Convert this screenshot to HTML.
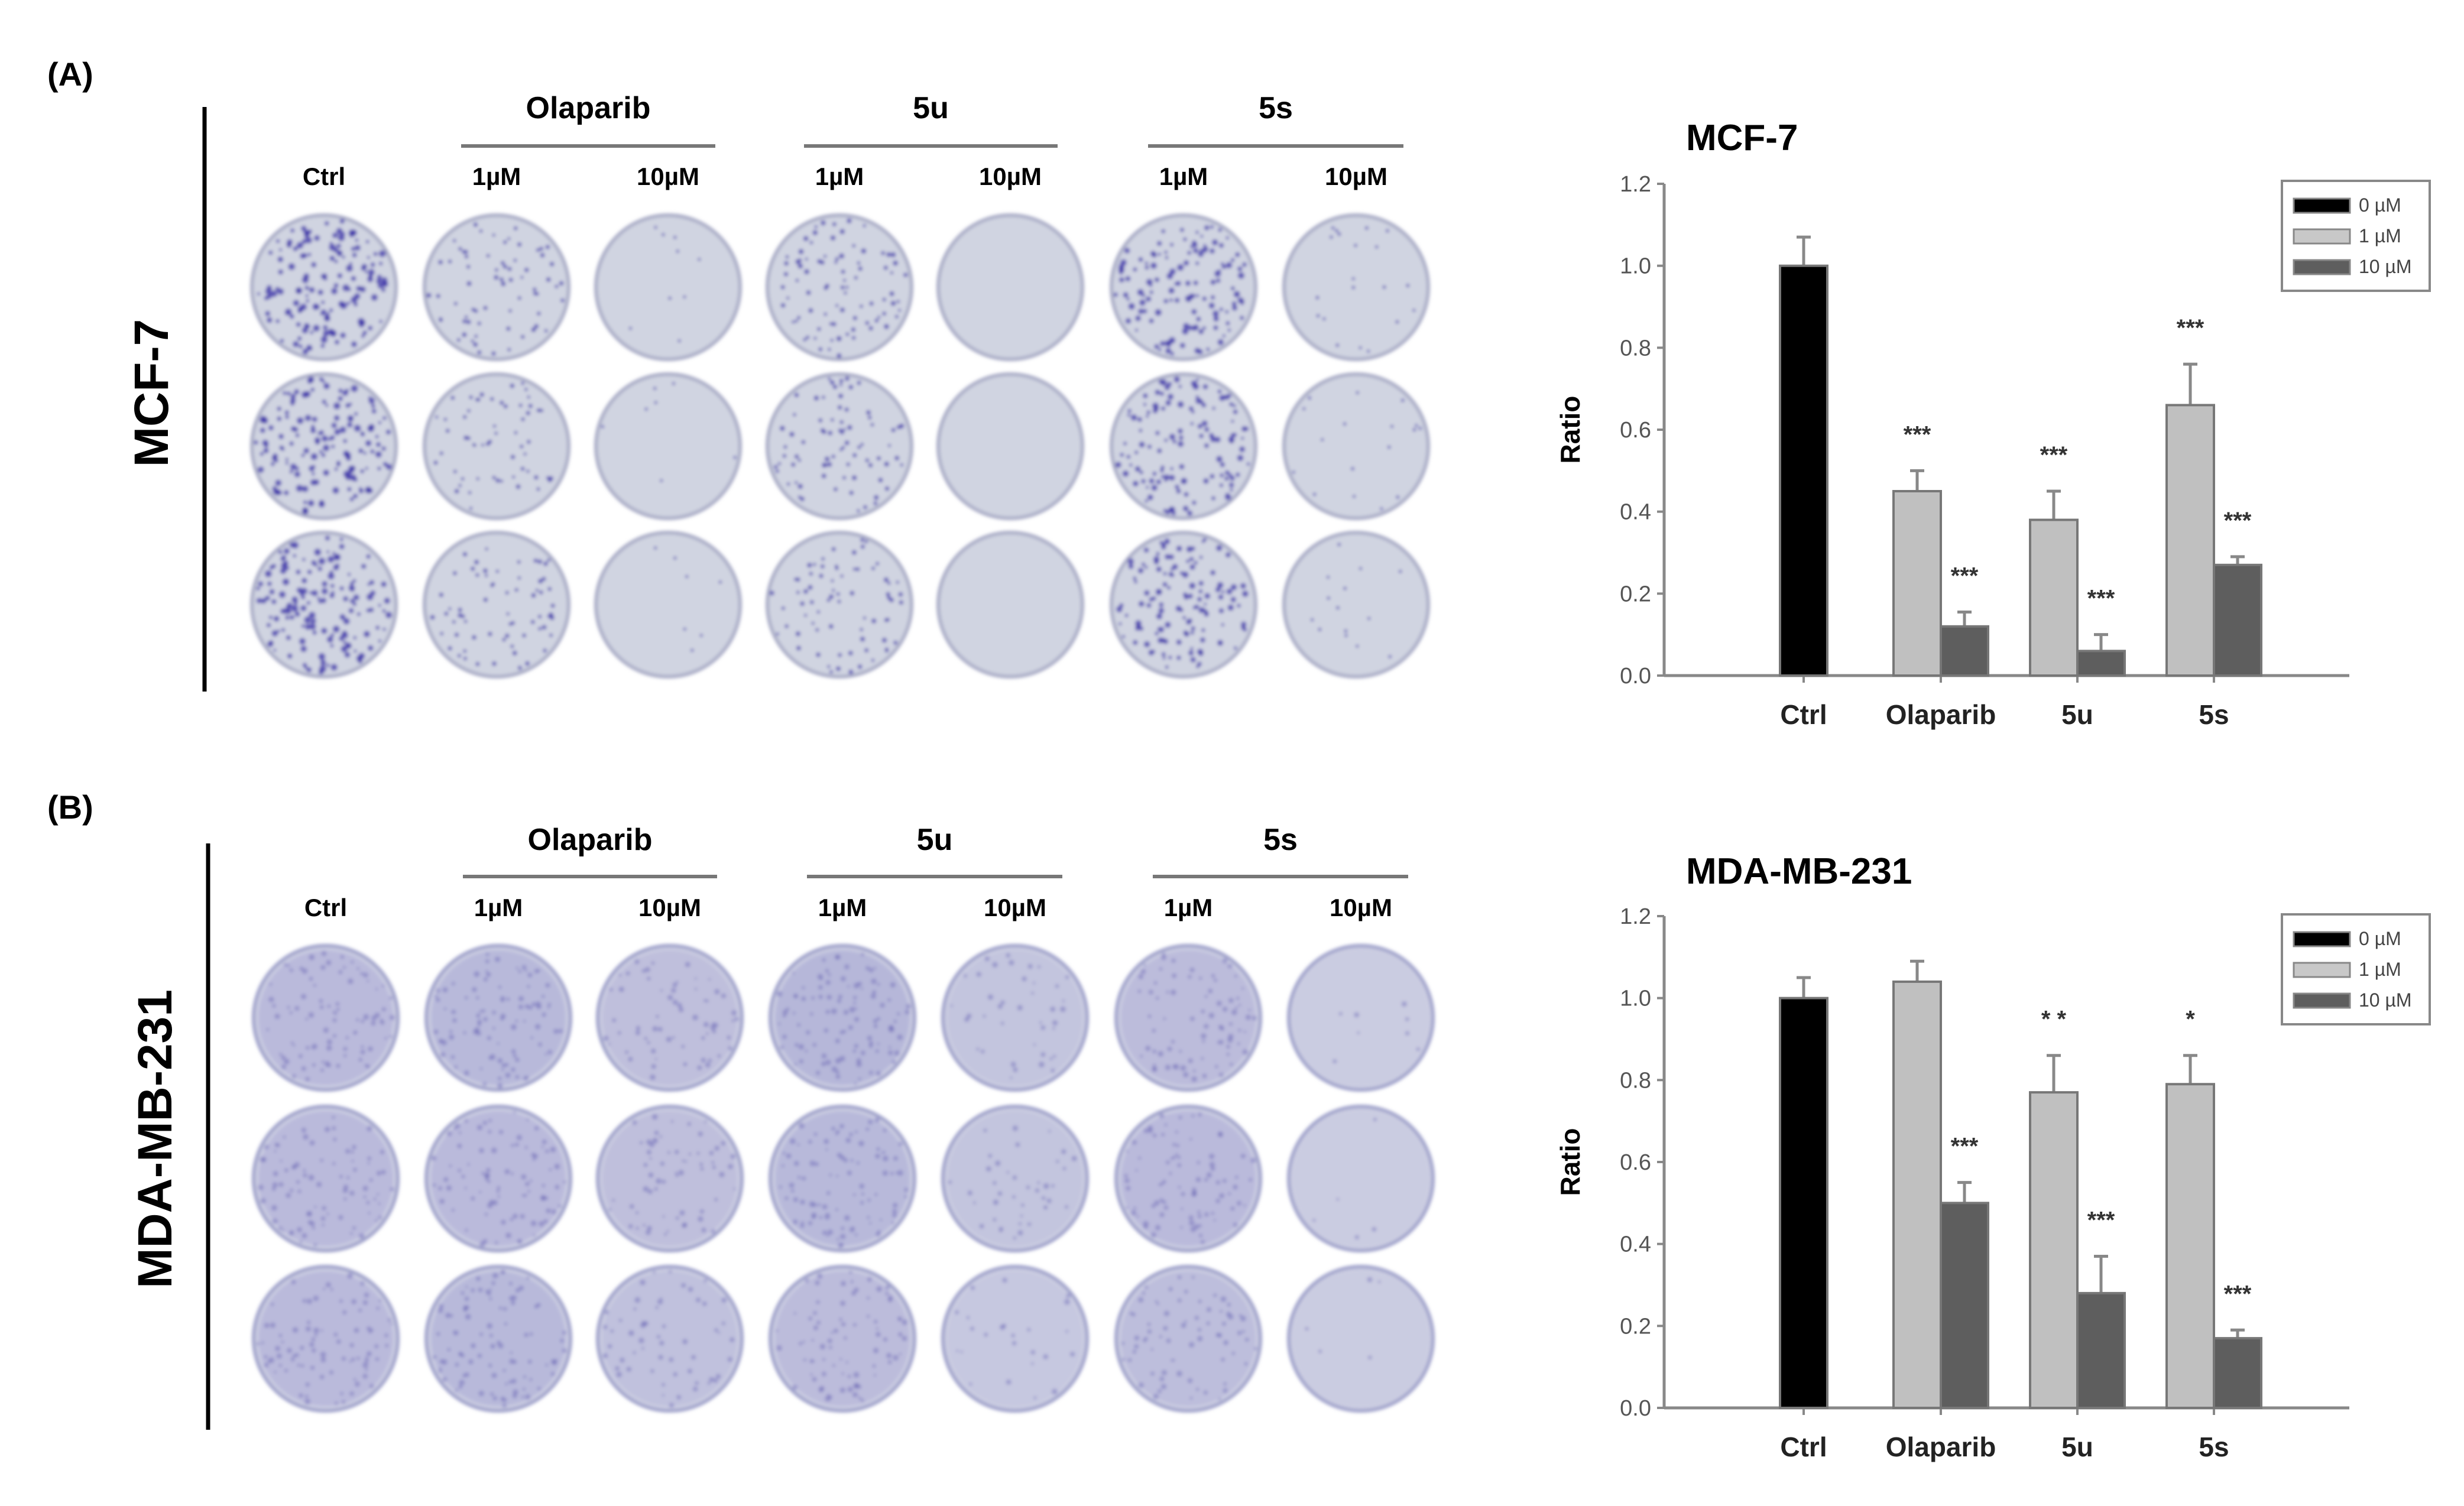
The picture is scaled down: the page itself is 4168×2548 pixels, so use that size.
<!DOCTYPE html>
<html><head><meta charset="utf-8">
<style>
html,body{margin:0;padding:0;background:#fff;}
svg{display:block;font-family:"Liberation Sans",Arial,sans-serif;}
</style></head>
<body>
<svg id="fig" width="4168" height="2548" viewBox="0 0 4168 2548" xmlns="http://www.w3.org/2000/svg">
<defs>
<filter id="soft" x="-10%" y="-10%" width="120%" height="120%"><feGaussianBlur stdDeviation="3"/></filter>
</defs>
<g id="plates" filter="url(#soft)"></g>
<g id="labels"></g>
<g id="chartA"></g>
<g id="chartB"></g>
</svg>
<script>
// ---- chart data ----
const categories = ["Ctrl","Olaparib","5u","5s"];
const legendLabels = ["0 \u00b5M","1 \u00b5M","10 \u00b5M"];
const yTicks = [0.0,0.2,0.4,0.6,0.8,1.0,1.2];
const ctrlA = [1.0]; const ctrlErrA = [0.07];
const lowA = [0.45,0.38,0.66]; const lowErrA = [0.05,0.07,0.10];
const highA = [0.12,0.06,0.27]; const highErrA = [0.035,0.04,0.02];
const lowStarsA = ["***","***","***"]; const highStarsA = ["***","***","***"];
const ctrlB = [1.0]; const ctrlErrB = [0.05];
const lowB = [1.04,0.77,0.79]; const lowErrB = [0.05,0.09,0.07];
const highB = [0.50,0.28,0.17]; const highErrB = [0.05,0.09,0.02];
const lowStarsB = ["","* *","*"]; const highStarsB = ["***","***","***"];
// plate colony densities (rows x 7 columns)
const densA = [[0.9,0.4,0.05,0.5,0.0,0.8,0.12],[0.9,0.35,0.04,0.45,0.0,0.75,0.1],[0.9,0.38,0.04,0.42,0.0,0.75,0.08]];
const densB = [[0.55,0.6,0.4,0.65,0.25,0.5,0.05],[0.55,0.55,0.4,0.6,0.25,0.55,0.03],[0.55,0.6,0.35,0.5,0.15,0.45,0.03]];

const NS="http://www.w3.org/2000/svg";
function mk(tag,attrs,parent,txt){const e=document.createElementNS(NS,tag);for(const k in attrs)e.setAttribute(k,attrs[k]);if(txt!==undefined)e.textContent=txt;parent.appendChild(e);return e;}

let seed=12345;function rnd(){seed=(seed*1103515245+12345)%2147483648;return seed/2147483648;}

const plates=document.getElementById('plates');
function drawPlates(cx,cy,dens,fill,edge,bg){
  for(let r=0;r<3;r++)for(let c=0;c<7;c++){
    const g=mk('g',{},plates);
    
    
    const x=cx[c],y=cy[r],R=122;
    mk('circle',{cx:x,cy:y,r:R,fill:fill,stroke:edge,'stroke-width':6},g);
    const d=dens[r][c];
    if(bg){mk('circle',{cx:x,cy:y,r:R-8,fill:'#8a88c8','fill-opacity':d*0.5},g);}
    const n=Math.round(d*(bg?160:170));
    for(let i=0;i<n;i++){
      const a=rnd()*Math.PI*2,rr=Math.sqrt(rnd())*(R-6);
      const s=bg?2+rnd()*3:1.5+rnd()*4*d+1;
      mk('circle',{cx:x+rr*Math.cos(a),cy:y+rr*Math.sin(a),r:s,fill:bg?'#6e6ab8':'#3a2fa8','fill-opacity':bg?0.5:0.75},g);
    }
  }
}
drawPlates([548,840,1130,1420,1709,2002,2294],[486,755,1023],densA,'#d0d4e1','#a9acc6',false);
drawPlates([551,843,1133,1425,1717,2010,2302],[1722,1994,2265],densB,'#cccee2','#9fa1ca',true);

const L=document.getElementById('labels');
function panelLabels(letterY,lineX,lineY1,lineY2,rowName,rowCY,grpY,grpLineY,colY,cx,letter){
  let t=mk('text',{x:80,y:letterY,'font-size':56,'font-weight':'bold'},L,letter);
  
  let l=mk('line',{x1:lineX,x2:lineX,y1:lineY1,y2:lineY2,stroke:'#000','stroke-width':7},L);
  
  t=mk('text',{x:0,y:0,'font-size':82,'font-weight':'bold','text-anchor':'middle',transform:`translate(${lineX-62},${rowCY}) rotate(-90)`},L,rowName);
  
  const groups=["Olaparib","5u","5s"];
  for(let i=0;i<3;i++){
    const x1=cx[1+2*i]-60,x2=cx[2+2*i]+80;
    t=mk('text',{x:(x1+x2)/2,y:grpY,'font-size':52,'font-weight':'bold','text-anchor':'middle'},L,groups[i]);
    
    l=mk('line',{x1:x1,x2:x2,y1:grpLineY,y2:grpLineY,stroke:'#777','stroke-width':6},L);
    
  }
  const cols=["Ctrl","1\u00b5M","10\u00b5M","1\u00b5M","10\u00b5M","1\u00b5M","10\u00b5M"];
  for(let i=0;i<7;i++){
    t=mk('text',{x:cx[i],y:colY,'font-size':42,'font-weight':'bold','text-anchor':'middle'},L,cols[i]);
    
  }
}
panelLabels(145,346,181,1170,"MCF-7",665,200,247,313,[548,840,1130,1420,1709,2002,2294],"(A)");
panelLabels(1385,352,1427,2419,"MDA-MB-231",1927,1438,1483,1550,[551,843,1133,1425,1717,2010,2302],"(B)");

function drawChart(gid,title,y0,y12,titleY,ctrl,ctrlErr,low,lowErr,high,highErr,lowStars,highStars,legY){
  const G=document.getElementById(gid);
  const x0=2815,xEnd=3974;
  const catX=[3051,3283,3514,3745];
  const bw=80;
  const Y=v=>y0-(v/1.2)*(y0-y12);
  let e=mk('text',{x:2852,y:titleY,'font-size':62,'font-weight':'bold'},G,title);
  
  e=mk('line',{x1:x0,x2:x0,y1:y12,y2:y0,stroke:'#888','stroke-width':5},G);
  
  e=mk('line',{x1:x0,x2:xEnd,y1:y0,y2:y0,stroke:'#888','stroke-width':5},G);
  
  yTicks.forEach(v=>{
    let tl=mk('line',{x1:x0-12,x2:x0,y1:Y(v),y2:Y(v),stroke:'#888','stroke-width':4},G);
    
    let tt=mk('text',{x:x0-22,y:Y(v)+13,'font-size':38,fill:'#555','text-anchor':'end'},G,v.toFixed(1));
    
  });
  e=mk('text',{x:0,y:0,'font-size':46,'font-weight':'bold','text-anchor':'middle',transform:`translate(${2672},${(y0+y12)/2}) rotate(-90)`},G,"Ratio");
  
  categories.forEach((c,i)=>{
    let tt=mk('text',{x:catX[i],y:y0+82,'font-size':46,'font-weight':'bold','text-anchor':'middle',fill:'#222'},G,c);
    
    let tl=mk('line',{x1:catX[i],x2:catX[i],y1:y0,y2:y0+12,stroke:'#888','stroke-width':4},G);
    
  });
  function bar(cx,v,err,fill,stars,name){
    const x=cx-bw/2;
    let eb=mk('line',{x1:cx,x2:cx,y1:Y(v),y2:Y(v+err),stroke:'#888','stroke-width':5},G);
    
    let cap=mk('line',{x1:cx-12,x2:cx+12,y1:Y(v+err),y2:Y(v+err),stroke:'#888','stroke-width':5},G);
    
    let b=mk('rect',{x:x,y:Y(v),width:bw,height:y0-Y(v),fill:fill,stroke:'#777','stroke-width':4},G);
    
    if(stars){
      let s=mk('text',{x:cx,y:Y(v+err)-48,'font-size':40,'font-weight':'bold','text-anchor':'middle',fill:'#333'},G,stars);
      
    }
  }
  bar(catX[0],ctrl[0],ctrlErr[0],'#000','','bar-ctrl');
  for(let i=0;i<3;i++){
    bar(catX[i+1]-bw/2,low[i],lowErr[i],'#c0c0c0',lowStars[i],'bar-1um-'+categories[i+1].toLowerCase());
    bar(catX[i+1]+bw/2,high[i],highErr[i],'#5e5e5e',highStars[i],'bar-10um-'+categories[i+1].toLowerCase());
  }
  const lg=mk('g',{},G);
  
  mk('rect',{x:3860,y:legY,width:250,height:186,fill:'#fff',stroke:'#888','stroke-width':4},lg);
  const cols=['#000','#c8c8c8','#5e5e5e'];
  for(let i=0;i<3;i++){
    const yy=legY+30+i*52;
    let sw=mk('rect',{x:3880,y:yy,width:95,height:24,fill:cols[i],stroke:'#888','stroke-width':3},lg);
    
    let lt=mk('text',{x:3990,y:yy+22,'font-size':32,fill:'#444'},lg,legendLabels[i]);
    
  }
}
drawChart('chartA','MCF-7',1143,311,254,ctrlA,ctrlErrA,lowA,lowErrA,highA,highErrA,lowStarsA,highStarsA,306);
drawChart('chartB','MDA-MB-231',2382,1550,1495,ctrlB,ctrlErrB,lowB,lowErrB,highB,highErrB,lowStarsB,highStarsB,1547);
</script>
</body></html>
